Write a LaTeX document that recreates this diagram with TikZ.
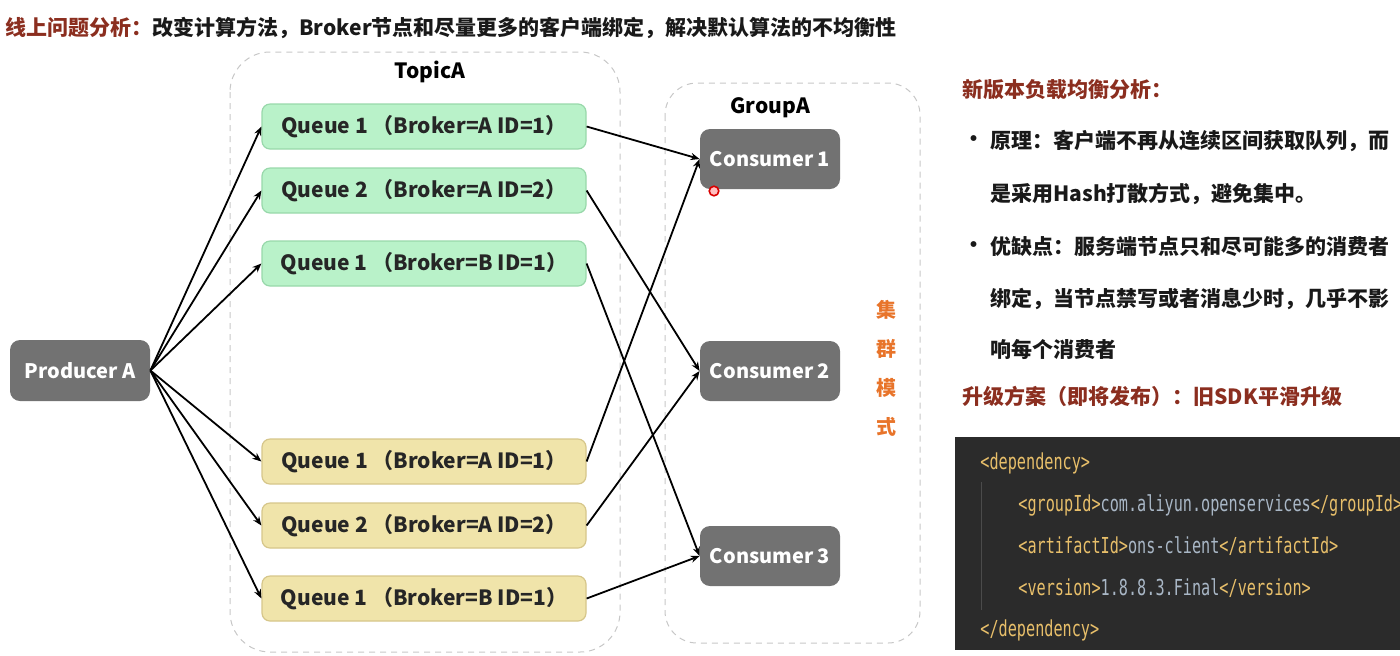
\documentclass[tikz,border=0pt]{standalone}
\usepackage{fontspec}
\setmainfont{Noto Sans CJK SC}
\newfontfamily\codefont{DejaVu Sans Mono}[FakeStretch=0.69]
\usetikzlibrary{arrows.meta}
\definecolor{headred}{HTML}{8B2E1F}
\definecolor{qgreen}{HTML}{B9F2C9}
\definecolor{qgreenline}{HTML}{98D8AA}
\definecolor{qyellow}{HTML}{F0E4AA}
\definecolor{qyellowline}{HTML}{D6C68A}
\definecolor{ngray}{HTML}{727272}
\definecolor{modeorange}{HTML}{E8742A}
\definecolor{codebg}{HTML}{2B2B2B}
\definecolor{codetag}{HTML}{E8BF6A}
\definecolor{codetext}{HTML}{A9B7C6}
\newcommand\tg[1]{{\color{codetag}#1}}

\begin{document}
\begin{tikzpicture}[x=0.5pt,y=-0.5pt,
 txt/.style={anchor=west,inner sep=0pt,font=\bfseries\fontsize{10.5}{12}\selectfont,text=black!90},
 box/.style={rounded corners=4pt,line width=0.6pt,minimum width=162pt,minimum height=22.5pt,
  font=\bfseries\fontsize{10.5}{12}\selectfont,text=black!85},
 greenq/.style={box,fill=qgreen,draw=qgreenline},
 yellowq/.style={box,fill=qyellow,draw=qyellowline},
 grayn/.style={rounded corners=5pt,fill=ngray,text=white,minimum width=70pt,minimum height=30pt,
  font=\bfseries\fontsize{10}{12}\selectfont},
 dashbox/.style={draw=black!22,dash pattern=on 3pt off 2.5pt,line width=0.5pt},
 link/.style={-{Stealth[length=4.5pt,width=3.6pt]},line width=0.9pt},
 code/.style={anchor=west,inner sep=0pt,text=codetext,font=\codefont\fontsize{11}{13}\selectfont}]
\useasboundingbox (0,0) rectangle (1400,655);

\node[txt] (title) at (5,28) {{\color{headred}线上问题分析：}改变计算方法，Broker节点和尽量更多的客户端绑定，解决默认算法的不均衡性};

\draw[dashbox,rounded corners=20pt] (230,52) rectangle (620,652);
\draw[dashbox,rounded corners=16pt] (665,83) rectangle (920,643);
\node[font=\bfseries\fontsize{10.5}{12}\selectfont] (topic) at (430,72) {TopicA};
\node[font=\bfseries\fontsize{10.5}{12}\selectfont] (group) at (770,108) {GroupA};

\node[grayn,minimum height=30.5pt] (prod) at (80,370.5) {Producer A};

\node[greenq] (g1) at (424,126.5) {Queue 1 （Broker=A ID=1）};
\node[greenq] (g2) at (424,190.5) {Queue 2 （Broker=A ID=2）};
\node[greenq] (g3) at (424,263.5) {Queue 1 （Broker=B ID=1）};
\node[yellowq] (y1) at (424,461.5) {Queue 1 （Broker=A ID=1）};
\node[yellowq] (y2) at (424,525.5) {Queue 2 （Broker=A ID=2）};
\node[yellowq] (y3) at (424,598.5) {Queue 1 （Broker=B ID=1）};

\node[grayn] (c1) at (770,159) {Consumer 1};
\node[grayn] (c2) at (770,371) {Consumer 2};
\node[grayn] (c3) at (770,556) {Consumer 3};

\foreach \q in {g1,g2,g3,y1,y2,y3} \draw[link] (prod.east) -- (\q.west);
\foreach \i in {1,2,3} {
 \draw[link] (g\i.east) -- (c\i.west);
 \draw[link] (y\i.east) -- (c\i.west);
}
\draw[red!85!black,line width=0.8pt,fill=red!25] (714,191) circle (2.4pt);

\foreach \c [count=\k] in {集,群,模,式}
 \node[font=\bfseries\fontsize{10}{12}\selectfont,text=modeorange] (m\k) at (886,{271+39*\k}) {\c};

\node[txt,text=headred] (h1) at (962,90) {新版本负载均衡分析：};
\node[txt] (b1) at (963,141) {•};
\node[txt] (l1) at (990,141) {原理：客户端不再从连续区间获取队列，而};
\node[txt] (l2) at (990,194) {是采用Hash打散方式，避免集中。};
\node[txt] (b2) at (963,247) {•};
\node[txt] (l3) at (990,247) {优缺点：服务端节点只和尽可能多的消费者};
\node[txt] (l4) at (990,299) {绑定，当节点禁写或者消息少时，几乎不影};
\node[txt] (l5) at (990,349) {响每个消费者};
\node[txt,text=headred] (h2) at (962,396) {升级方案（即将发布）：旧SDK平滑升级};

\fill[codebg] (955,437) rectangle (1400,650);
\begin{scope}
\clip (955,437) rectangle (1400,650);
\draw[codebg!85!white,line width=0.5pt] (981,482) -- (981,610);
\node[code] (d1) at (980,463) {\tg{<dependency>}};
\node[code] (d2) at (1018,505) {\tg{<groupId>}com.aliyun.openservices\tg{</groupId>}};
\node[code] (d3) at (1018,546) {\tg{<artifactId>}ons-client\tg{</artifactId>}};
\node[code] (d4) at (1018,588) {\tg{<version>}1.8.8.3.Final\tg{</version>}};
\node[code] (d5) at (980,630) {\tg{</dependency>}};
\end{scope}
\end{tikzpicture}
\end{document}
